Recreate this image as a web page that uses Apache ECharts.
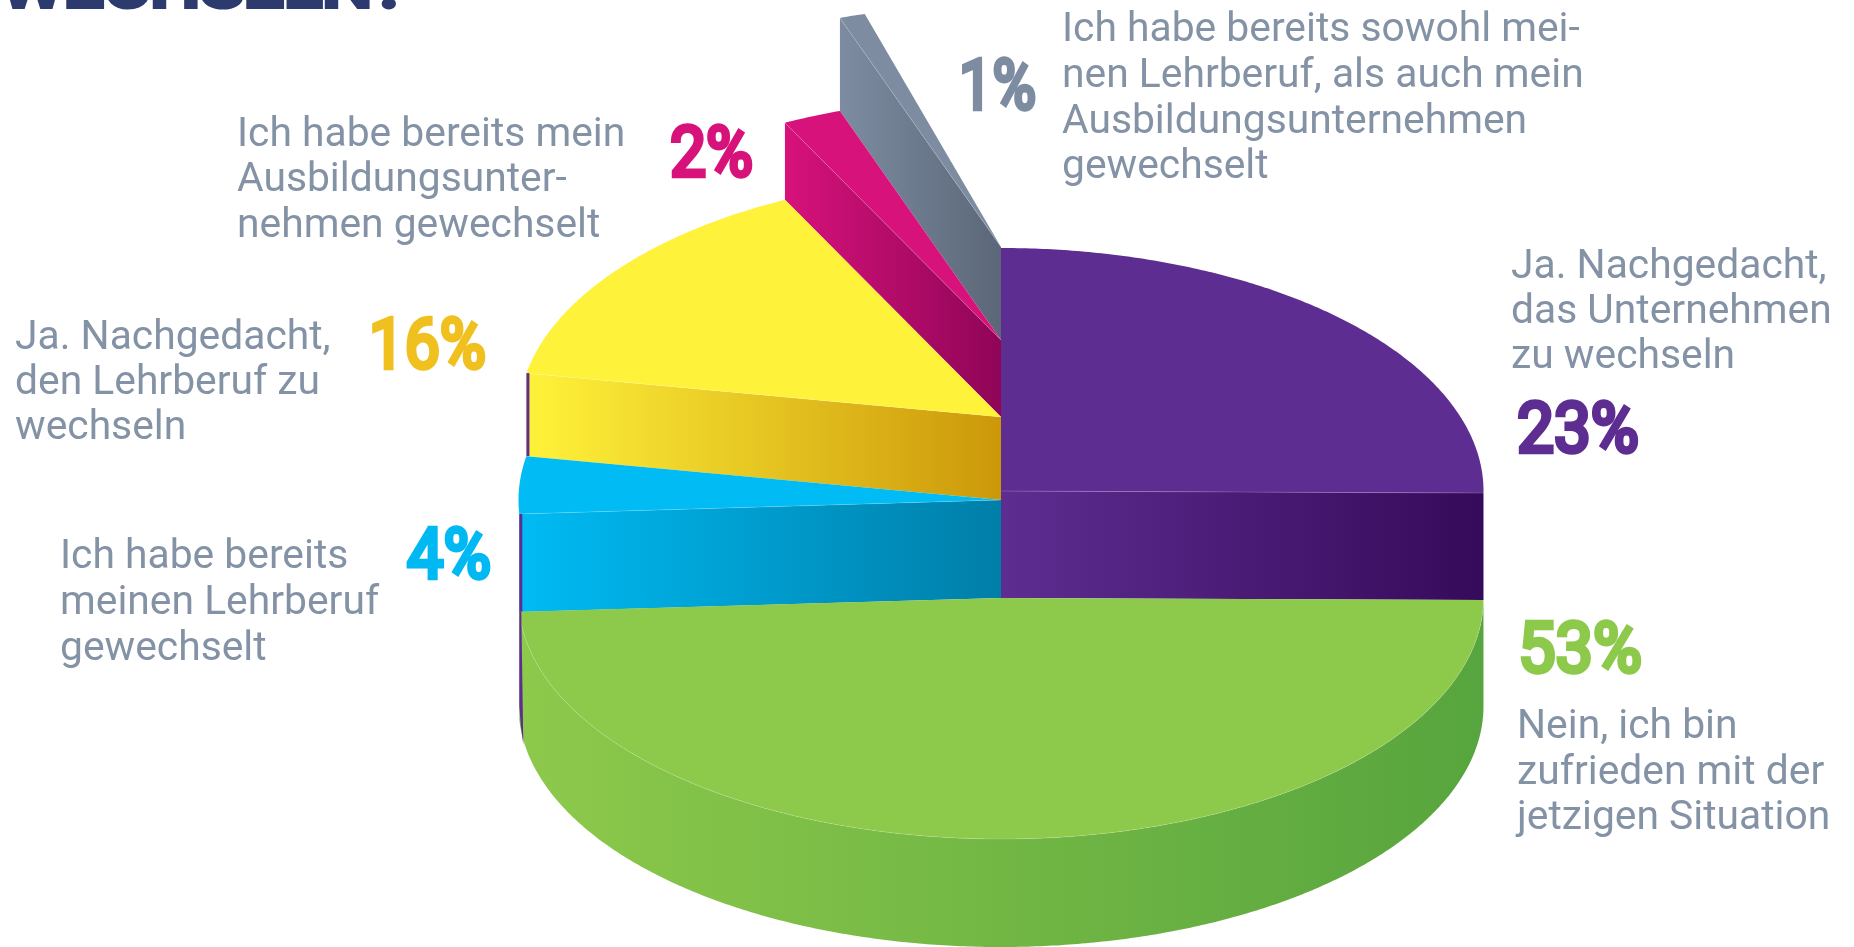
<!DOCTYPE html>
<html><head><meta charset="utf-8">
<style>html,body{margin:0;padding:0;background:#fff}#c{width:1854px;height:947px}</style>
<script src="https://cdn.jsdelivr.net/npm/echarts@6/dist/echarts.min.js"></script>
</head><body><div id="c"></div>
<script>
// ---- data ----
const categories = [
  ['Ja. Nachgedacht,','das Unternehmen','zu wechseln'],
  ['Nein, ich bin','zufrieden mit der','jetzigen Situation'],
  ['Ich habe bereits','meinen Lehrberuf','gewechselt'],
  ['Ja. Nachgedacht,','den Lehrberuf zu','wechseln'],
  ['Ich habe bereits mein','Ausbildungsunter-','nehmen gewechselt'],
  ['Ich habe bereits sowohl mei-','nen Lehrberuf, als auch mein','Ausbildungsunternehmen','gewechselt']
];
const percentValues = [23, 53, 4, 16, 2, 1];
// swept angle of each drawn slice, degrees, as measured on the picture
const drawnSweep = [90.5, 176.2, 13.7, 53, 7.1, 3.1];
const titleTail = 'WECHSELN?';

// ---- layout & style ----
const disc = {cx: 1001, rx: 482.5, baseY: 598};
const radiusY = [243, 241, 243, 243, 243, 243];
const thickness = [107, 108, 98, 83, 77, 93];
const restsOn = [1, null, 1, 2, 3, 4];
const drawOrder = [5, 4, 3, 2, 0, 1];
const topColor  = ['#5e2d91', '#8dc94b', '#00bbf4', '#fff23a', '#d7127a', '#7d8ca1'];
const sideEnd   = ['#360a5a', '#57a53e', '#007ea8', '#cc980a', '#8f0558', '#5b6778'];
const pctColor  = ['#5e2d91', '#8dc94b', '#00b9f2', '#f0c01f', '#d7127a', '#7d8ca1'];
const textBox = [
  {x:1511, base:[279.5,324.5,369.5]},
  {x:1517, base:[739.5,785.5,830.5]},
  {x:60,   base:[569.5,615.5,661.5]},
  {x:15,   base:[350.5,395.5,440.5]},
  {x:237,  base:[147.5,193,238.5]},
  {x:1062, base:[42.5,88.5,134.5,179.5]}
];
const pctBox = [
  {x:1517, base:455, w:122},
  {x:1518, base:675, w:124},
  {x:407,  base:581, w:84},
  {x:369,  base:371, w:117},
  {x:670,  base:179, w:83},
  {x:959,  base:112, w:77}
];
const bodyFont = 40.8, bodyColor = '#8492a6', pctFont = 70;

const centerY = percentValues.map(() => 0);
(function place(){
  centerY[1] = disc.baseY;
  [0,2,3,4,5].forEach(i => { centerY[i] = centerY[restsOn[i]] - thickness[i]; });
})();
const startAngle = [];
drawnSweep.reduce((a, s, i) => (startAngle[i] = a, a + s), 0);

function rimPoint(i, deg, dy) {
  const r = deg * Math.PI / 180;
  return [disc.cx + disc.rx * Math.sin(r), centerY[i] + (dy||0) - radiusY[i] * Math.cos(r)];
}
function arc(i, a0, a1, dy) {
  const n = Math.max(4, Math.ceil(Math.abs(a1 - a0) * 2)), out = [];
  for (let k = 0; k <= n; k++) out.push(rimPoint(i, a0 + (a1 - a0) * k / n, dy));
  return out;
}
function renderItem(params, api) {
  const i = api.value(0), a0 = startAngle[i], a1 = a0 + drawnSweep[i], d = thickness[i];
  const z = drawOrder.indexOf(i) * 10;
  const px = p => api.coord(p);
  const apex = [disc.cx, centerY[i]];
  const grad = new echarts.graphic.LinearGradient(0, 0, 1, 0, [
    {offset: 0, color: topColor[i]},
    {offset: 1, color: sideEnd[i]}
  ]);
  const kids = [];
  const topPts = [apex].concat(arc(i, a0, a1)).map(px);
  let sidePts;
  if (i === 1) {
    sidePts = arc(i, a0, a1).concat(arc(i, a1, a0, d));
  } else if (i === 0) {
    const p = rimPoint(i, a1);
    sidePts = [apex, p, [p[0], p[1] + d], [apex[0], apex[1] + d]];
  } else {
    const p = rimPoint(i, a0);
    sidePts = [p, apex, [apex[0], apex[1] + d], [p[0], p[1] + d]];
  }
  kids.push({type: 'polygon', z2: z + 1, shape: {points: sidePts.map(px)},
    style: {fill: grad, stroke: null}});
  kids.push({type: 'polygon', z2: z + 2, shape: {points: topPts},
    style: {fill: topColor[i]}});
  // thin light seam where top surface meets side
  const seam = i === 1 ? arc(i, a0, a1) : i === 0 ? [apex, rimPoint(i, a1)] : [rimPoint(i, a0), apex];
  kids.push({type: 'polyline', z2: z + 3, shape: {points: seam.map(px)},
    style: {fill: null, stroke: 'rgba(255,255,255,0.2)', lineWidth: 0.8}});
  // purple sliver peeking out at the far left of the stack
  if (i === 2 || i === 3) {
    const p = rimPoint(i, a0);
    kids.push({type: 'polygon', z2: z + 4, shape: {points: [p, [p[0] + 3, p[1]], [p[0] + 3, p[1] + d], [p[0], p[1] + d]].map(px)},
      style: {fill: topColor[0]}});
  }
  if (i === 1) {
    const p = rimPoint(i, a1);
    kids.push({type: 'polygon', z2: z + 4, shape: {points: [p, [p[0] + 2, p[1]], [p[0] + 4, p[1] + d + 25], [p[0] + 1.5, p[1] + d + 6], [p[0], p[1] + d - 14]].map(px)},
      style: {fill: topColor[0]}});
  }
  return {type: 'group', children: kids};
}

const mctx = document.createElement('canvas').getContext('2d');
function fitted(font, text, w) { mctx.font = font; return w / mctx.measureText(text).width; }

const graphics = [];
categories.forEach((lines, i) => lines.forEach((t, k) => {
  graphics.push({type: 'text', x: textBox[i].x, y: textBox[i].base[k] - bodyFont * 0.29, silent: true,
    style: {text: t, fill: bodyColor, font: '400 ' + bodyFont + 'px Roboto', textAlign: 'left', verticalAlign: 'middle'}});
}));
percentValues.forEach((v, i) => {
  const s = v + '%', f = '400 ' + pctFont + 'px Roboto';
  graphics.push({type: 'text', x: pctBox[i].x, y: pctBox[i].base - pctFont * 0.29, scaleX: fitted(f, s, pctBox[i].w), silent: true,
    style: {text: s, fill: pctColor[i], stroke: pctColor[i], lineWidth: 4.5, lineJoin: 'round', font: f, textAlign: 'left', verticalAlign: 'middle'}});
});
(function(){
  const f = '500 60px Roboto';
  graphics.push({type: 'text', x: 1, y: 9 - 60 * 0.29, scaleX: fitted(f, titleTail, 406), silent: true,
    style: {text: titleTail, fill: '#2d3a6e', stroke: '#2d3a6e', lineWidth: 4, lineJoin: 'round', font: f, textAlign: 'left', verticalAlign: 'middle'}});
})();

const chart = echarts.init(document.getElementById('c'), null, {renderer: 'canvas'});
chart.setOption({
  animation: false,
  backgroundColor: '#ffffff',
  grid: {left: 0, right: 0, top: 0, bottom: 0},
  xAxis: {type: 'value', min: 0, max: 1854, show: false},
  yAxis: {type: 'value', min: 0, max: 947, inverse: true, show: false},
  series: [{
    type: 'custom', coordinateSystem: 'cartesian2d', clip: false, silent: true,
    renderItem, encode: {x: -1, y: -1},
    data: drawOrder.map(i => [i, percentValues[i]])
  }],
  graphic: graphics
});
</script></body></html>
